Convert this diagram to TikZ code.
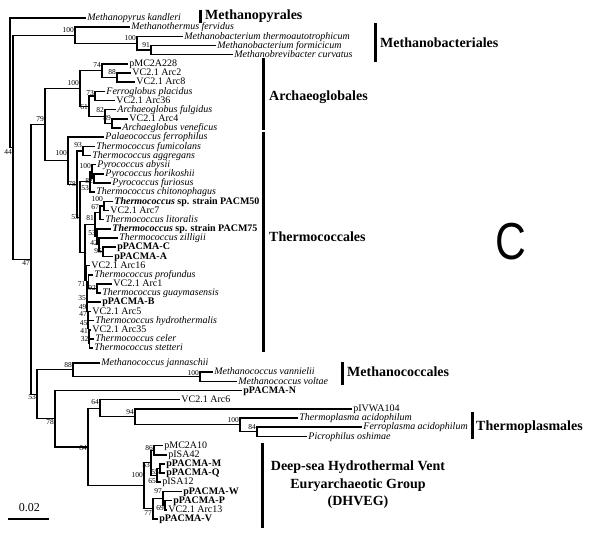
\documentclass[tikz,border=0pt]{standalone}
\usepackage{fontspec}
\setmainfont{Liberation Serif}
\newfontfamily\csans{Liberation Sans}
\usetikzlibrary{calc}
\newcommand\cl[4]{\path ($(#3)!.5!(#4)$) coordinate (#1m); \coordinate (#1) at (#2,0 |- #1m); \draw[br] (#3) -| (#1) |- (#4);}
\newcommand\bl[3]{\node[bsn] (b#1) at ($(#1)+(-0.6,#2)$) {#3};}
\begin{document}
\begin{tikzpicture}[x=1pt,y=-1pt,
  leaf/.style={anchor=west, inner xsep=1.2pt, inner ysep=0pt, text height=7pt, text depth=2pt, font=\fontsize{10}{10}\selectfont},
  it/.style={leaf, font=\fontsize{10}{10}\selectfont\itshape},
  bf/.style={leaf, font=\fontsize{10}{10}\selectfont\bfseries},
  br/.style={line width=1.1pt},
  bsn/.style={anchor=east, inner sep=0.3pt, font=\fontsize{7.5}{7.5}\selectfont},
  cladelab/.style={anchor=west, inner sep=0pt, font=\fontsize{14}{14}\selectfont\bfseries},
  bar/.style={line width=3pt}]
\useasboundingbox (0,0) rectangle (592,538);
% leaves
\node[it] (l1) at (86,18) {Methanopyrus kandleri};
\node[it] (l2) at (130,27) {Methanothermus fervidus};
\node[it] (l3) at (183,36.5) {Methanobacterium thermoautotrophicum};
\node[it] (l4) at (216,45.5) {Methanobacterium formicicum};
\node[it] (l5) at (233,54.5) {Methanobrevibacter curvatus};
\node[leaf] (l6) at (128,64) {pMC2A228};
\node[leaf] (l7) at (131,73) {VC2.1 Arc2};
\node[leaf] (l8) at (135,82) {VC2.1 Arc8};
\node[it] (l9) at (105,91.5) {Ferroglobus placidus};
\node[leaf] (l10) at (115,100.5) {VC2.1 Arc36};
\node[it] (l11) at (116,109.5) {Archaeoglobus fulgidus};
\node[leaf] (l12) at (128,119) {VC2.1 Arc4};
\node[it] (l13) at (121,128) {Archaeglobus veneficus};
\node[it] (l14) at (104,137) {Palaeococcus ferrophilus};
\node[it] (l15) at (95,146.5) {Thermococcus fumicolans};
\node[it] (l16) at (91,155.5) {Thermococcus aggregans};
\node[it] (l17) at (96,164.5) {Pyrococcus abysii};
\node[it] (l18) at (104,174) {Pyrococcus horikoshii};
\node[it] (l19) at (111,183) {Pyrococcus furiosus};
\node[it] (l20) at (95,192) {Thermococcus chitonophagus};
\node[bf] (l21) at (113,201.5) {\textit{Thermococcus} sp. strain PACM50};
\node[leaf] (l22) at (109,210.5) {VC2.1 Arc7};
\node[it] (l23) at (104,219.5) {Thermococcus litoralis};
\node[bf] (l24) at (111,229) {\textit{Thermococcus} sp. strain PACM75};
\node[it] (l25) at (118,238) {Thermococcus zilligii};
\node[bf] (l26) at (116,247) {pPACMA-C};
\node[bf] (l27) at (113,256.5) {pPACMA-A};
\node[leaf] (l28) at (90,265.5) {VC2.1 Arc16};
\node[it] (l29) at (93,275) {Thermococcus profundus};
\node[leaf] (l30) at (112,284) {VC2.1 Arc1};
\node[it] (l31) at (101,293) {Thermococcus guaymasensis};
\node[bf] (l32) at (101,302) {pPACMA-B};
\node[leaf] (l33) at (91,311.5) {VC2.1 Arc5};
\node[it] (l34) at (94,320.5) {Thermococcus hydrothermalis};
\node[leaf] (l35) at (91,330) {VC2.1 Arc35};
\node[it] (l36) at (94,339) {Thermococcus celer};
\node[it] (l37) at (93,348) {Thermococcus stetteri};
\node[it] (l38) at (100,363) {Methanococcus jannaschii};
\node[it] (l39) at (213,372) {Methanococcus vannielii};
\node[it] (l40) at (237,381.5) {Methanococcus voltae};
\node[bf] (l41) at (242,390.5) {pPACMA-N};
\node[leaf] (l42) at (180,399.5) {VC2.1 Arc6};
\node[leaf] (l43) at (352,409) {pIVWA104};
\node[it] (l44) at (298,418) {Thermoplasma acidophilum};
\node[it] (l45) at (362,427) {Ferroplasma acidophilum};
\node[it] (l46) at (307,436.5) {Picrophilus oshimae};
\node[leaf] (l47) at (163,445.5) {pMC2A10};
\node[leaf] (l48) at (167,455) {pISA42};
\node[bf] (l49) at (165,464) {pPACMA-M};
\node[bf] (l50) at (165,473) {pPACMA-Q};
\node[leaf] (l51) at (161,482) {pISA12};
\node[bf] (l52) at (182,491.5) {pPACMA-W};
\node[bf] (l53) at (172,500.5) {pPACMA-P};
\node[leaf] (l54) at (167,510) {VC2.1 Arc13};
\node[bf] (l55) at (158,519) {pPACMA-V};
% clades
\cl{Mb91}{151}{l4.west}{l5.west}
\cl{Mb2}{137}{l3.west}{Mb91}
\cl{MB}{75}{l2.west}{Mb2}
\cl{A88}{117}{l7.west}{l8.west}
\cl{A74}{102}{l6.west}{A88}
\cl{A73}{95}{l9.west}{l10.west}
\cl{A89}{112}{l12.west}{l13.west}
\cl{A82}{105}{l11.west}{A89}
\cl{A61}{89}{A73}{A82}
\cl{A100}{80}{A74}{A61}
\cl{T93}{83}{l15.west}{l16.west}
\cl{P82}{94}{l18.west}{l19.west}
\cl{Pyr}{92}{l17.west}{P82}
\cl{P53}{90}{Pyr}{l20.west}
\cl{Na}{104}{l21.west}{l22.west}
\cl{N67}{100}{Na}{l23.west}
\cl{N95}{103}{l26.west}{l27.west}
\cl{N42}{99}{l25.west}{N95}
\cl{N53b}{97}{l24.west}{N42}
\cl{N81}{95}{N67}{N53b}
\cl{N92}{97}{l30.west}{l31.west}
\cl{N7x}{88.5}{l29.west}{N92}
\cl{N32}{89.5}{l36.west}{l37.west}
\cl{N41}{89}{l35.west}{N32}
\cl{N45}{88.5}{l34.west}{N41}
\cl{N47c}{88}{l33.west}{N45}
\cl{N49}{87.5}{l32.west}{N47c}
\cl{N35}{87}{N7x}{N49}
\cl{N71}{86.5}{l28.west}{N35}
\cl{L}{85}{N81}{N71}
\cl{T2}{80}{P53}{L}
\cl{T1}{77}{T93}{T2}
\cl{T0}{68}{l14.west}{T1}
\cl{N79}{45}{A100}{T0}
\cl{M100}{200}{l39.west}{l40.west}
\cl{M88}{73}{l38.west}{M100}
\cl{N84b}{257}{l45.west}{l46.west}
\cl{N100t}{240}{l44.west}{N84b}
\cl{N94}{135}{l43.west}{N100t}
\cl{N64}{100}{l42.west}{N94}
\cl{N86}{154}{l47.west}{l48.west}
\cl{N55}{160}{l49.west}{l50.west}
\cl{N65}{157}{N55}{l51.west}
\cl{N53d}{151}{N86}{N65}
\cl{N69}{165}{l53.west}{l54.west}
\cl{N97}{163}{l52.west}{N69}
\cl{N77}{153}{N97}{l55.west}
\cl{N100d}{144}{N53d}{N77}
\cl{N84}{88}{N64}{N100d}
\cl{N78}{55}{l41.west}{N84}
\cl{N53}{37}{M88}{N78}
\cl{N47}{31}{N79}{N53}
\cl{N1}{13}{MB}{N47}
\cl{R0}{10}{l1.west}{N1}
% bootstrap values
\bl{MB}{-5}{100}
\bl{Mb2}{-5}{100}
\bl{Mb91}{-5}{91}
\bl{A100}{-5.5}{100}
\bl{A74}{-6}{74}
\bl{A88}{-5.5}{88}
\bl{A73}{-3}{73}
\bl{A61}{1}{61}
\bl{A82}{-6}{82}
\bl{A89}{-5}{89}
\bl{N79}{-5.5}{79}
\bl{T0}{-8}{100}
\bl{T93}{-6}{93}
\bl{T1}{0}{78}
\bl{Pyr}{-5}{100}
\bl{P82}{3}{82}
\bl{P53}{6}{53}
\bl{T2}{0}{53}
\bl{Na}{-7}{100}
\bl{N67}{-6}{67}
\bl{N81}{-7}{81}
\bl{N53b}{-4}{53}
\bl{N42}{-2}{42}
\bl{N95}{-1}{95}
\bl{N71}{3}{71}
\bl{N92}{0}{92}
\bl{N35}{2}{35}
\bl{N49}{-4}{49}
\bl{N47c}{-6}{47}
\bl{N45}{-6}{45}
\bl{N41}{-6}{41}
\bl{N32}{-4}{32}
\bl{N1}{5}{44}
\bl{N47}{4}{47}
\bl{M88}{-5}{88}
\bl{M100}{-4}{100}
\bl{N53}{3}{53}
\bl{N78}{3}{78}
\bl{N64}{-6}{64}
\bl{N94}{-5}{94}
\bl{N100t}{-5}{100}
\bl{N84b}{-5}{84}
\bl{N84}{1}{84}
\bl{N86}{-2}{86}
\bl{N53d}{2}{53}
\bl{N55}{4}{55}
\bl{N65}{6}{65}
\bl{N97}{-7}{97}
\bl{N69}{3}{69}
\bl{N77}{4}{77}
\bl{N100d}{-11}{100}
% clade bars and names
\draw[bar] (200,10) -- (200,23);
\node[cladelab] (cMp) at (205,16) {Methanopyrales};
\draw[bar] (375,23) -- (375,62);
\node[cladelab] (cMb) at (380,43) {Methanobacteriales};
\draw[bar] (263,58) -- (263,129.5);
\node[cladelab] (cAg) at (269,97) {Archaeoglobales};
\draw[bar] (263,131.5) -- (263,352);
\node[cladelab] (cTc) at (269,237) {Thermococcales};
\draw[bar] (342,362) -- (342,385);
\node[cladelab] (cMc) at (347,372) {Methanococcales};
\draw[bar] (472,412) -- (472,439);
\node[cladelab] (cTp) at (476,427) {Thermoplasmales};
\draw[bar] (262,443) -- (262,528);
\node[align=center, inner sep=0pt, font=\fontsize{14}{17.5}\selectfont\bfseries] (cDH) at (358,485) {Deep-sea Hydrothermal Vent\\Euryarchaeotic Group\\(DHVEG)};
% scale bar
\draw[line width=2.5pt] (8,519) -- (49,519);
\node[inner sep=0pt, font=\fontsize{12}{12}\selectfont] (scl) at (29.5,508) {0.02};
% panel letter
\node[inner sep=0pt, xscale=0.82, font=\csans\fontsize{52}{52}\selectfont] (pC) at (511,242) {C};
\end{tikzpicture}
\end{document}
